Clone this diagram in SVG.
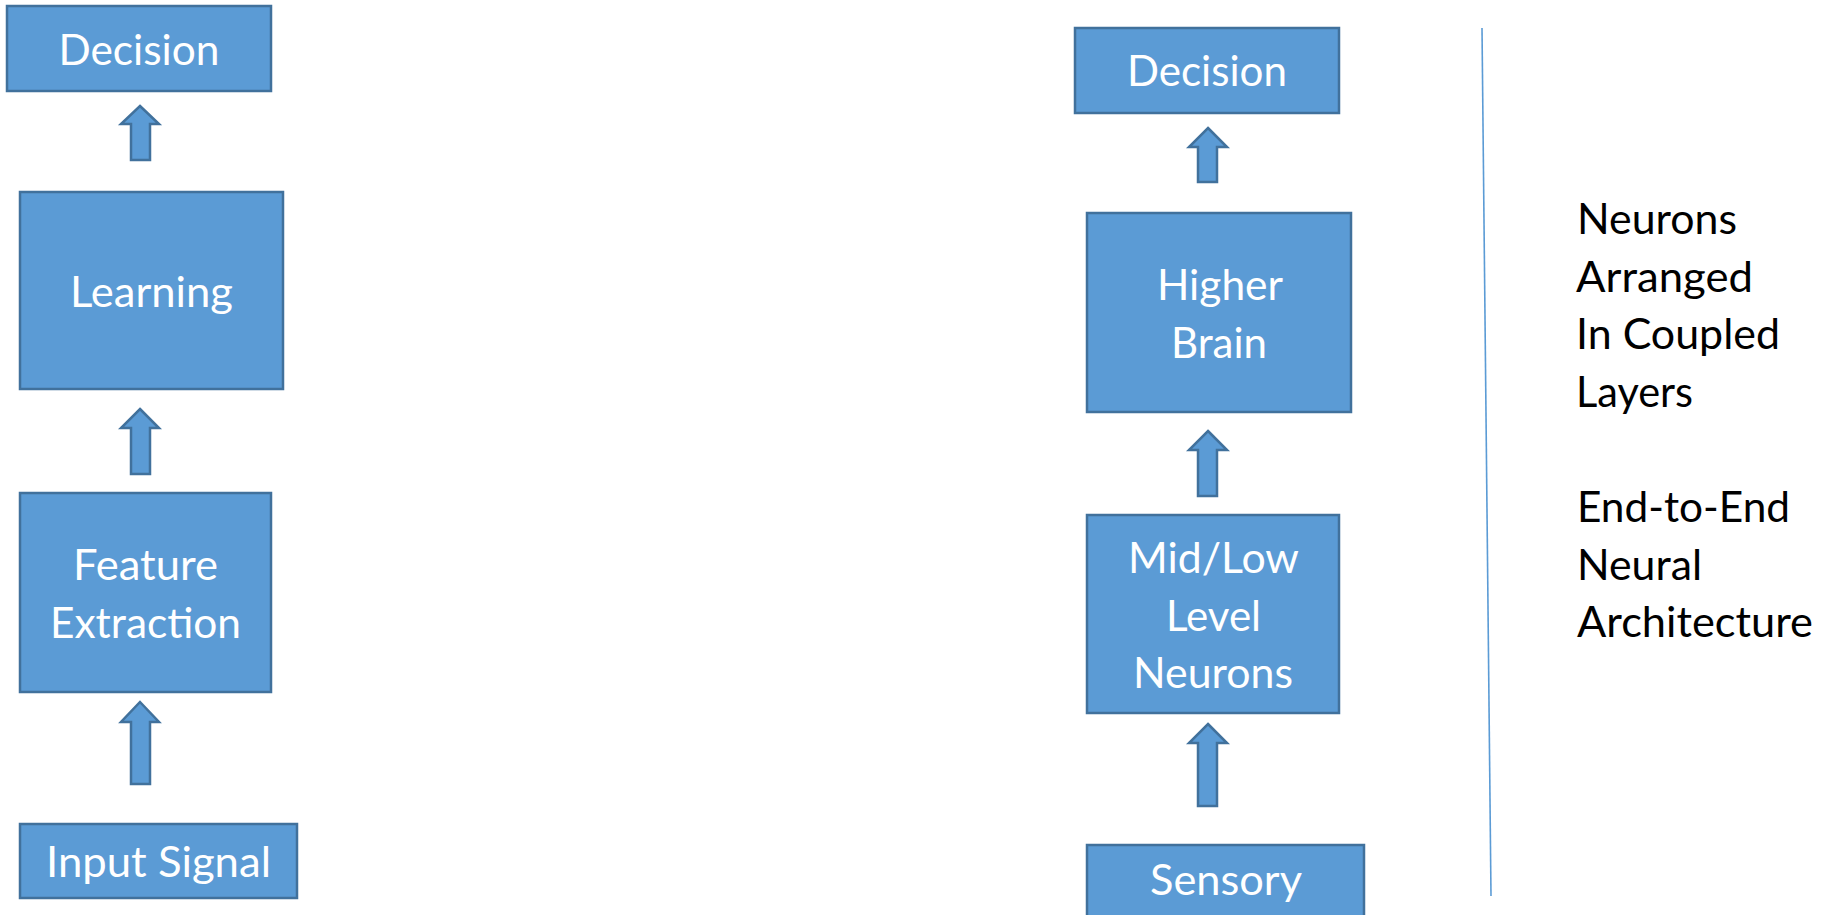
<svg xmlns="http://www.w3.org/2000/svg" width="1824" height="915" viewBox="0 0 1824 915">
  <style>
    .box { fill: #5B9BD5; stroke: #41719C; stroke-width: 2.5; }
    .arrow { fill: #5B9BD5; stroke: #41719C; stroke-width: 2.5; stroke-linejoin: miter; }
    .lbl { font-family: Lato, "Open Sans", sans-serif; font-size: 42px; fill: #FFFFFF; }
    .note { font-family: Lato, "Open Sans", sans-serif; font-size: 42px; fill: #000000; }
    .divider { stroke: #5B9BD5; stroke-width: 1.6; fill: none; }
  </style>
  <rect width="1824" height="915" fill="#FFFFFF"/>

  <!-- left pipeline: classic feature-based system -->
  <g id="left-decision">
    <rect class="box" x="7" y="6" width="264" height="85"/>
    <text class="lbl" x="139" y="65" text-anchor="middle" textLength="161" lengthAdjust="spacingAndGlyphs">Decision</text>
  </g>
  <g id="left-learning">
    <rect class="box" x="20" y="192" width="263" height="197"/>
    <text class="lbl" x="151.5" y="307" text-anchor="middle" textLength="163" lengthAdjust="spacingAndGlyphs">Learning</text>
  </g>
  <g id="left-feature">
    <rect class="box" x="20" y="493" width="251" height="199"/>
    <text class="lbl" x="145.5" y="580" text-anchor="middle" textLength="145" lengthAdjust="spacingAndGlyphs">Feature</text>
    <text class="lbl" x="145.5" y="638" text-anchor="middle" textLength="191" lengthAdjust="spacingAndGlyphs">Extraction</text>
  </g>
  <g id="left-input">
    <rect class="box" x="20" y="824" width="277" height="74"/>
    <text class="lbl" x="158.5" y="877" text-anchor="middle" textLength="225" lengthAdjust="spacingAndGlyphs">Input Signal</text>
  </g>

  <!-- right pipeline: neural system -->
  <g id="right-decision">
    <rect class="box" x="1075" y="28" width="264" height="85"/>
    <text class="lbl" x="1207" y="86" text-anchor="middle" textLength="160" lengthAdjust="spacingAndGlyphs">Decision</text>
  </g>
  <g id="right-higher-brain">
    <rect class="box" x="1087" y="213" width="264" height="199"/>
    <text class="lbl" x="1220" y="300" text-anchor="middle" textLength="126" lengthAdjust="spacingAndGlyphs">Higher</text>
    <text class="lbl" x="1219" y="358" text-anchor="middle" textLength="96" lengthAdjust="spacingAndGlyphs">Brain</text>
  </g>
  <g id="right-midlow">
    <rect class="box" x="1087" y="515" width="252" height="198"/>
    <text class="lbl" x="1213.5" y="573" text-anchor="middle" textLength="171" lengthAdjust="spacingAndGlyphs">Mid/Low</text>
    <text class="lbl" x="1213.5" y="631" text-anchor="middle" textLength="95" lengthAdjust="spacingAndGlyphs">Level</text>
    <text class="lbl" x="1213" y="688" text-anchor="middle" textLength="160" lengthAdjust="spacingAndGlyphs">Neurons</text>
  </g>
  <g id="right-sensory">
    <rect class="box" x="1087" y="845" width="277" height="85"/>
    <text class="lbl" x="1226" y="895" text-anchor="middle" textLength="152" lengthAdjust="spacingAndGlyphs">Sensory</text>
  </g>

  <!-- block arrows between stages -->
  <g id="connectors">
    <polygon class="arrow" points="140,106 159,124 150,124 150,160 131,160 131,124 121,124"/>
    <polygon class="arrow" points="140,409 159,428 150,428 150,474 131,474 131,428 121,428"/>
    <polygon class="arrow" points="140,702 159,722 150,722 150,784 131,784 131,722 121,722"/>
    <polygon class="arrow" points="1208,128 1227,147 1217,147 1217,182 1198,182 1198,147 1189,147"/>
    <polygon class="arrow" points="1208,431 1227,450 1217,450 1217,496 1198,496 1198,450 1189,450"/>
    <polygon class="arrow" points="1208,724 1227,743 1217,743 1217,806 1198,806 1198,743 1189,743"/>
  </g>

  <!-- divider and side notes -->
  <line class="divider" x1="1482" y1="28" x2="1491" y2="896"/>
  <g id="notes">
    <text class="note" x="1577" y="234" textLength="160" lengthAdjust="spacingAndGlyphs">Neurons</text>
    <text class="note" x="1576" y="292" textLength="177" lengthAdjust="spacingAndGlyphs">Arranged</text>
    <text class="note" x="1576" y="349" textLength="204" lengthAdjust="spacingAndGlyphs">In Coupled</text>
    <text class="note" x="1576" y="407" textLength="117" lengthAdjust="spacingAndGlyphs">Layers</text>
    <text class="note" x="1577" y="522" textLength="213" lengthAdjust="spacingAndGlyphs">End-to-End</text>
    <text class="note" x="1577" y="580" textLength="125" lengthAdjust="spacingAndGlyphs">Neural</text>
    <text class="note" x="1577" y="637" textLength="236" lengthAdjust="spacingAndGlyphs">Architecture</text>
  </g>
</svg>
